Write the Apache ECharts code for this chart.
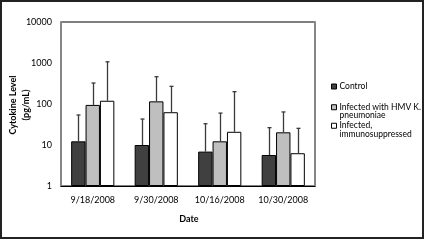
<!DOCTYPE html>
<html><head><meta charset="utf-8">
<script src="https://cdn.jsdelivr.net/npm/echarts@6/dist/echarts.min.js"></script>
<style>html,body{margin:0;padding:0;background:#fff}#c{width:425px;height:240px}</style>
</head><body><div id="c"></div>
<script>
const categories = ['9/18/2008', '9/30/2008', '10/16/2008', '10/30/2008'];
const seriesNames = ['Control', 'Infected with HMV K. pneumoniae', 'Infected, immunosuppressed'];
const control = [12.3, 10, 6.9, 5.7];
const infected = [95, 116, 12.3, 20.4];
const immuno = [120, 63, 21, 6.3];
const controlErrTop = [54, 43, 33, 26.5];
const infectedErrTop = [325, 463, 60, 64];
const immunoErrTop = [1070, 270, 200, 25.5];
const yTicks = [1, 10, 100, 1000, 10000];

const FONT = 'Lato';
const values = [control, infected, immuno];
const errTops = [controlErrTop, infectedErrTop, immunoErrTop];
const colors = ['#404040', '#bfbfbf', '#ffffff'];
const catGap = 0.32;

const chart = echarts.init(document.getElementById('c'), null, {renderer: 'canvas'});

const barSeries = values.map((v, i) => ({
  name: seriesNames[i],
  type: 'bar',
  data: v,
  barGap: '0%',
  barCategoryGap: (catGap * 100) + '%',
  itemStyle: {color: colors[i], borderColor: '#000', borderWidth: 1},
  z: 2
}));

const errData = [];
errTops.forEach((arr, s) => arr.forEach((t, c) => errData.push([c, values[s][c], t, s])));

const errSeries = {
  type: 'custom',
  data: errData,
  z: 3,
  silent: true,
  renderItem: function (params, api) {
    const c = api.value(0), v = api.value(1), t = api.value(2), s = api.value(3);
    const band = api.size([1, 0])[0];
    const bw = band * (1 - catGap) / 3;
    const base = api.coord([c, v]);
    const top = api.coord([c, t]);
    const x = Math.round(base[0] + (s - 1) * bw) + 0.5;
    const col = '#3a3a3a';
    return {type: 'group', children: [
      {type: 'line', shape: {x1: x, y1: base[1], x2: x, y2: top[1]}, style: {stroke: col, lineWidth: 1.3}},
      {type: 'line', shape: {x1: x - 2, y1: top[1], x2: x + 2, y2: top[1]}, style: {stroke: col, lineWidth: 1.3}}
    ]};
  }
};

function iconPath(twoLine) {
  return twoLine ? 'path://M0,0L10,0L10,10L0,10Z M0,26' : 'path://M0,0L10,0L10,10L0,10Z';
}

const legendTexts = ['Control', 'Infected with HMV K.\npneumoniae', 'Infected,\nimmunosuppressed'];
const legendTops = [77, 97.5, 116];
const legends = seriesNames.map((n, i) => ({
  data: [{name: n, icon: iconPath(i > 0), itemStyle: {color: colors[i], borderColor: '#000', borderWidth: 1}}],
  left: 326,
  top: legendTops[i],
  orient: 'vertical',
  itemWidth: 5,
  itemHeight: i > 0 ? 13 : 5,
  itemGap: 2,
  selectedMode: false,
  formatter: () => legendTexts[i],
  textStyle: {fontFamily: FONT, fontSize: 8.5, color: '#000', lineHeight: 8.5, padding: [0, 0, 0, -2]}
}));

chart.setOption({
  animation: false,
  backgroundColor: '#fff',
  textStyle: {fontFamily: FONT},
  grid: {left: 61, right: 110, top: 22, bottom: 54, show: true, borderColor: '#000', borderWidth: 1, containLabel: false},
  legend: legends,
  xAxis: {
    type: 'category',
    data: categories,
    axisLine: {lineStyle: {color: '#000', width: 1}},
    axisTick: {show: false},
    axisLabel: {fontFamily: FONT, fontSize: 9, color: '#000', margin: 10, interval: 0}
  },
  yAxis: [{
    type: 'log',
    logBase: 10,
    min: yTicks[0],
    max: yTicks[yTicks.length - 1],
    axisLine: {show: true, lineStyle: {color: '#868686', width: 2}},
    axisTick: {show: false},
    splitLine: {show: false},
    axisLabel: {fontFamily: FONT, fontSize: 9, color: '#000', margin: 9, formatter: v => String(Math.round(v))}
  }, {
    type: 'log',
    logBase: 10,
    min: yTicks[0],
    max: yTicks[yTicks.length - 1],
    position: 'right',
    axisLine: {show: true, lineStyle: {color: '#868686', width: 2}},
    axisTick: {show: false},
    splitLine: {show: false},
    axisLabel: {show: false}
  }],
  series: barSeries.concat([errSeries]),
  graphic: [
    {type: 'rect', shape: {x: 1, y: 1, width: 422, height: 237}, style: {fill: 'none', stroke: '#222', lineWidth: 2}, silent: true},
    {type: 'text', x: 20, y: 105, rotation: Math.PI / 2, style: {text: 'Cytokine Level\n(pg/mL)', fontFamily: FONT, fontSize: 9, fontWeight: 'bold', fill: '#000', align: 'center', verticalAlign: 'middle', lineHeight: 13}},
    {type: 'text', x: 189, y: 219, style: {text: 'Date', fontFamily: FONT, fontSize: 9, fontWeight: 'bold', fill: '#000', align: 'center', verticalAlign: 'middle'}}
  ]
});
</script></body></html>
